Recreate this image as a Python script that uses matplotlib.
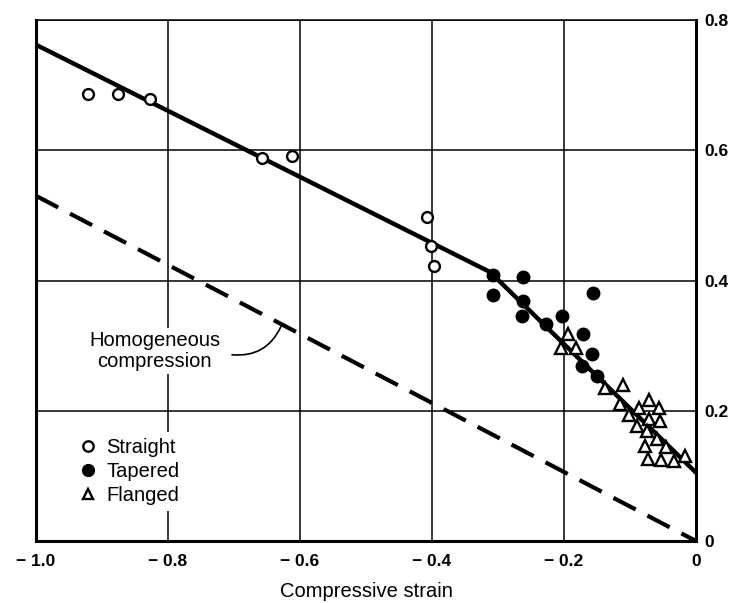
import matplotlib.pyplot as plt
from matplotlib.lines import Line2D

# Straight specimens (open circles)
straight_x = [-0.921, -0.876, -0.827, -0.658, -0.612, -0.407, -0.402, -0.397]
straight_y = [0.687, 0.687, 0.679, 0.588, 0.591, 0.497, 0.453, 0.422]

# Tapered specimens (filled circles)
tapered_x = [-0.307, -0.262, -0.308, -0.262, -0.156, -0.263, -0.227, -0.203,
             -0.171, -0.157, -0.172, -0.150]
tapered_y = [0.409, 0.405, 0.377, 0.369, 0.381, 0.345, 0.333, 0.345,
             0.318, 0.287, 0.269, 0.254]

# Flanged specimens (open triangles)
flanged_x = [-0.205, -0.194, -0.182, -0.138, -0.111, -0.115, -0.101, -0.086,
             -0.071, -0.056, -0.090, -0.071, -0.054, -0.074, -0.059, -0.077,
             -0.045, -0.072, -0.053, -0.034, -0.017]
flanged_y = [0.297, 0.318, 0.296, 0.235, 0.239, 0.210, 0.193, 0.204,
             0.216, 0.204, 0.177, 0.188, 0.184, 0.169, 0.156, 0.146,
             0.144, 0.126, 0.125, 0.123, 0.130]

# Fitted line (two segments) and homogeneous compression line
fit_x = [-1.0, -0.312, 0.0]
fit_y = [0.762, 0.413, 0.105]
homog_x = [-1.0, 0.0]
homog_y = [0.53, 0.0]

xticks = [-1.0, -0.8, -0.6, -0.4, -0.2, 0.0]
xtick_labels = ['\u2212 1.0', '\u2212 0.8', '\u2212 0.6', '\u2212 0.4', '\u2212 0.2', '0']
yticks = [0.0, 0.2, 0.4, 0.6, 0.8]
ytick_labels = ['0', '0.2', '0.4', '0.6', '0.8']

FONT = ['Liberation Sans', 'DejaVu Sans']
TICK_FONT = ['Liberation Sans Narrow', 'Liberation Sans', 'DejaVu Sans']

fig = plt.figure(figsize=(7.29, 6.03), dpi=100)
ax = fig.add_axes([0.0494, 0.1028, 0.9053, 0.864])

ax.set_xlim(-1.0, 0.0)
ax.set_ylim(0.0, 0.8)

# grid
ax.set_xticks(xticks)
ax.set_yticks(yticks)
ax.grid(True, color='black', linewidth=1.1)
ax.set_axisbelow(True)

# lines
ax.plot(fit_x, fit_y, color='black', linewidth=3.2, zorder=3)
ax.plot(homog_x, homog_y, color='black', linewidth=3.0,
        dashes=(6, 3.2), zorder=3)

# data points
ax.plot(straight_x, straight_y, 'o', markersize=7.8, markerfacecolor='white',
        markeredgecolor='black', markeredgewidth=1.7, zorder=4)
ax.plot(tapered_x, tapered_y, 'o', markersize=9, color='black', zorder=4)
ax.plot(flanged_x, flanged_y, '^', markersize=9, markerfacecolor='white',
        markeredgecolor='black', markeredgewidth=1.7, zorder=4)

# annotation
ax.text(-0.82, 0.292, 'Homogeneous\ncompression', ha='center', va='center',
        fontsize=14.5, family=FONT, linespacing=1.15, zorder=5,
        bbox=dict(facecolor='white', edgecolor='none', pad=2))
ax.annotate('', xy=(-0.629, 0.329), xytext=(-0.703, 0.286),
            arrowprops=dict(arrowstyle='-', connectionstyle='arc3,rad=0.35',
                            color='black', lw=1.2, shrinkA=0, shrinkB=0),
            zorder=5)

# legend
handles = [
    Line2D([], [], marker='o', linestyle='none', markersize=7.5,
           markerfacecolor='white', markeredgecolor='black', markeredgewidth=1.7),
    Line2D([], [], marker='o', linestyle='none', markersize=8.5, color='black'),
    Line2D([], [], marker='^', linestyle='none', markersize=7.5,
           markerfacecolor='white', markeredgecolor='black', markeredgewidth=1.7),
]
leg = ax.legend(handles, ['Straight', 'Tapered', 'Flanged'], loc='upper left',
                bbox_to_anchor=(0.055, 0.21), frameon=True, fancybox=False,
                prop={'family': FONT, 'size': 14.5}, handletextpad=0.4,
                handlelength=1.0, labelspacing=0.25, borderpad=0.3,
                borderaxespad=0)
leg.get_frame().set_facecolor('white')
leg.get_frame().set_edgecolor('none')
leg.get_frame().set_alpha(1)

# axes style
for side in ['left', 'right', 'bottom']:
    ax.spines[side].set_linewidth(2.2)
ax.spines['top'].set_linewidth(1.1)

ax.yaxis.tick_right()
ax.tick_params(length=0)
ax.tick_params(axis='x', pad=9)
ax.tick_params(axis='y', pad=6)
ax.set_xticklabels(xtick_labels, family=TICK_FONT, fontweight='bold',
                   fontsize=12.5, fontstretch='condensed')
ax.set_yticklabels(ytick_labels, family=TICK_FONT, fontweight='bold',
                   fontsize=12.5, fontstretch='condensed')

ax.set_xlabel('Compressive strain', family=FONT, fontsize=14.5, labelpad=10)

fig.savefig('out.png', dpi=100)
